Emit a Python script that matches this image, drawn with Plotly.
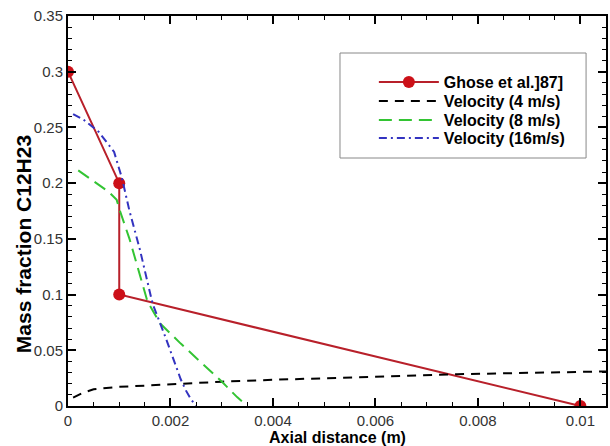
import plotly.graph_objects as go

ghose_x = [0.0, 0.001, 0.001, 0.01]
ghose_y = [0.3, 0.2, 0.1, 0.0]

v4_x = [0.0001, 0.0003, 0.0005, 0.001, 0.0016, 0.002, 0.003, 0.004, 0.005, 0.006, 0.0076, 0.009, 0.0105]
v4_y = [0.0075, 0.012, 0.015, 0.0172, 0.0185, 0.0195, 0.0218, 0.0235, 0.025, 0.0265, 0.0285, 0.0298, 0.031]

v8_x = [0.0002, 0.0005, 0.0008, 0.00095, 0.001, 0.0012, 0.0014, 0.00155, 0.0017, 0.0018, 0.0022, 0.0027, 0.003, 0.0033, 0.0035]
v8_y = [0.2115, 0.202, 0.192, 0.185, 0.177, 0.15, 0.118, 0.094, 0.082, 0.074, 0.056, 0.035, 0.022, 0.008, 0.0]

v16_x = [0.0001, 0.0003, 0.0006, 0.0009, 0.00105, 0.0012, 0.0014, 0.00165, 0.0019, 0.00205, 0.0022, 0.0023, 0.0024, 0.0025]
v16_y = [0.262, 0.257, 0.246, 0.228, 0.205, 0.175, 0.141, 0.092, 0.062, 0.043, 0.024, 0.014, 0.006, 0.0]

names = ["Ghose et al.]87]", "Velocity (4 m/s)", "Velocity (8 m/s)", "Velocity (16m/s)"]

FONT = "Liberation Sans, Arial, sans-serif"

# plot area in pixels
L, R, T, B = 68, 608, 16, 406
W, H = R - L, B - T


def px(xp):
    return (xp - L) / W


def py(yp):
    return (B - yp) / H


fig = go.Figure()
fig.add_trace(go.Scatter(x=ghose_x, y=ghose_y, name=names[0], mode="lines+markers",
                         line=dict(color="#b8202a", width=2),
                         marker=dict(color="#cc1018", size=12), legend="legend"))
fig.add_trace(go.Scatter(x=v4_x, y=v4_y, name=names[1], mode="lines",
                         line=dict(color="black", width=2, dash="9px,7px"), legend="legend2"))
fig.add_trace(go.Scatter(x=v8_x, y=v8_y, name=names[2], mode="lines",
                         line=dict(color="#33c433", width=2, dash="13px,7px"), legend="legend3"))
fig.add_trace(go.Scatter(x=v16_x, y=v16_y, name=names[3], mode="lines",
                         line=dict(color="#3333c0", width=2, dash="8px,4px,2px,4px"), legend="legend4"))

axis_common = dict(showline=True, linecolor="black", linewidth=2, mirror="ticks",
                   ticks="inside", ticklen=8, tickwidth=2, tickcolor="black",
                   showgrid=False, zeroline=False,
                   tickfont=dict(family=FONT, size=15, color="#333333"))

fig.update_xaxes(range=[0, 0.0105], tickvals=[0, 0.002, 0.004, 0.006, 0.008, 0.01],
                 ticktext=["0", "0.002", "0.004", "0.006", "0.008", "0.01"],
                 minor=dict(ticks="inside", ticklen=4, tickwidth=1, tickcolor="black", dtick=0.0005, tick0=0),
                 **axis_common)
fig.update_yaxes(range=[0, 0.35], tickvals=[0, 0.05, 0.1, 0.15, 0.2, 0.25, 0.3, 0.35],
                 ticktext=["0", "0.05", "0.1", "0.15", "0.2", "0.25", "0.3", "0.35"],
                 minor=dict(ticks="inside", ticklen=4, tickwidth=1, tickcolor="black", dtick=0.01, tick0=0),
                 **axis_common)

fig.add_annotation(text="<b>Mass fraction C12H23</b>", xref="paper", yref="paper",
                   x=px(24), y=py(244), xanchor="center", yanchor="middle",
                   textangle=-90, showarrow=False,
                   font=dict(family=FONT, size=21, color="black"))
fig.add_annotation(text="<b>Axial distance (m)</b>", xref="paper", yref="paper",
                   x=px(339), y=py(437), xanchor="center", yanchor="middle",
                   showarrow=False, borderpad=0,
                   font=dict(family=FONT, size=16, color="black"))

fig.add_shape(type="rect", xref="paper", yref="paper",
              x0=px(341), x1=px(588), y0=py(158), y1=py(53),
              line=dict(color="#888888", width=1), fillcolor="white", layer="below")

leg_font = dict(family=FONT, size=16, color="black", weight="bold")
leg_rows = [82, 101, 120, 138]
layout_legends = {}
for i, yrow in enumerate(leg_rows):
    key = "legend" if i == 0 else f"legend{i + 1}"
    layout_legends[key] = dict(x=px(375), y=py(yrow), xanchor="left", yanchor="middle",
                               bgcolor="rgba(0,0,0,0)", borderwidth=0,
                               font=leg_font, itemwidth=60)

fig.update_layout(
    width=610, height=446,
    margin=dict(l=L, r=610 - R, t=T, b=446 - B),
    plot_bgcolor="white", paper_bgcolor="white",
    showlegend=True,
    **layout_legends,
)

fig.write_html("out.html")
